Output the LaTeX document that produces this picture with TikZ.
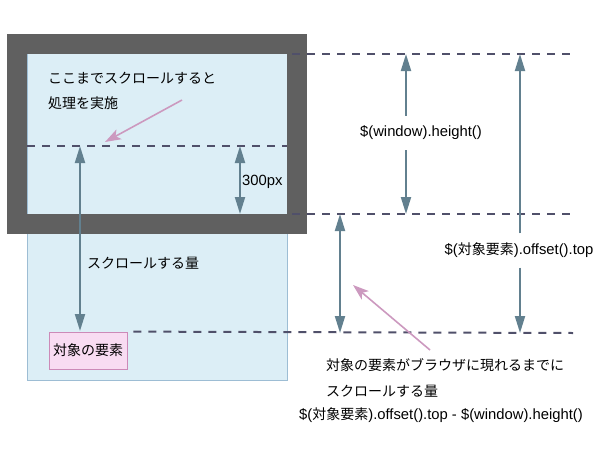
\documentclass[tikz,border=0pt]{standalone}
\usepackage{fontspec}
\setmainfont{Liberation Sans}
\newfontfamily\jp{Noto Sans CJK JP}
\usetikzlibrary{arrows.meta}

\definecolor{framegray}{HTML}{606060}
\definecolor{pagefill}{HTML}{DCEEF6}
\definecolor{pageline}{HTML}{9DBDD4}
\definecolor{dashcol}{HTML}{50506A}
\definecolor{arrcol}{HTML}{62808F}
\definecolor{notecol}{HTML}{CC99BF}
\definecolor{elemfill}{HTML}{F8DCF2}
\definecolor{elemline}{HTML}{CC8AB8}

\newcommand{\jpsize}{\jp\fontsize{14}{17}\selectfont}
\newcommand{\ltsize}{\fontsize{14.8}{17}\selectfont}

\tikzset{
  bord/.style={draw=dashcol,line width=2pt,dash pattern=on 8pt off 7pt},
  dimline/.style={draw=arrcol,line width=2pt,arrows={Triangle[length=17pt,width=10pt]-Triangle[length=17pt,width=10pt]}},
  dimhalf/.style={draw=arrcol,line width=2pt,arrows={-Triangle[length=17pt,width=10pt]}},
  note/.style={draw=notecol,line width=1.6pt,arrows={-Stealth[length=16pt,width=11pt,inset=4pt]}},
  lbl/.style={inner sep=0pt,anchor=west,font=\ltsize},
  gaplbl/.style={inner xsep=0pt,inner ysep=10.5pt,text height=10pt,text depth=3pt,font=\ltsize},
}

\begin{document}
\begin{tikzpicture}[x=1pt,y=-1pt]
\useasboundingbox (0,0) rectangle (600,450);

% ページ
\node[draw=pageline,fill=pagefill,line width=0.8pt,minimum width=260pt,minimum height=336pt,inner sep=0pt] (page) at (157,212) {};

% ウィンドウ
\node[draw=framegray,line width=20pt,minimum width=280pt,minimum height=180pt,inner sep=0pt] (win) at (157,134) {};

% 対象の要素
\node[draw=elemline,fill=elemfill,line width=0.8pt,minimum width=78pt,minimum height=37pt,inner sep=0pt,font=\jpsize] (elem) at (88,350.5) {対象の要素};

% 破線
\coordinate (topL) at (292,54);  \coordinate (topR) at (576,54);
\coordinate (midL) at (27,146);  \coordinate (midR) at (287,146);
\coordinate (botL) at (292,214); \coordinate (botR) at (572,214);
\coordinate (elemR) at (573,333);
\draw[bord] (topL) -- (topR);
\draw[bord] (midL) -- (midR);
\draw[bord] (botL) -- (botR);
\draw[bord] ([xshift=6pt]elem.north east) -- (elemR);

% 矢印
\coordinate (a1t) at (80,146); \coordinate (a1b) at (80,331);
\coordinate (a2t) at (240,146); \coordinate (a2b) at (240,214);
\coordinate (whtop) at (406,54); \coordinate (whbot) at (406,214);
\coordinate (ottop) at (520,54); \coordinate (otbot) at (520,333);
\coordinate (dtop) at (340,214); \coordinate (dbot) at (340,333);
\draw[dimline] (a1t) -- (a1b);
\draw[dimline] (a2t) -- (a2b);
\draw[dimline] (dtop) -- (dbot);

\node[gaplbl] (whlabel) at (421,133) {\$(window).height()};
\draw[dimhalf] (whlabel.north -| whtop) -- (whtop);
\draw[dimhalf] (whlabel.south -| whbot) -- (whbot);

\node[gaplbl] (otlabel) at (519,250.5) {\$({\jpsize 対象要素}).offset().top};
\draw[dimhalf] (otlabel.north -| ottop) -- (ottop);
\draw[dimhalf] (otlabel.south -| otbot) -- (otbot);

% テキスト
\node[lbl,font=\jpsize] (t1) at (48,78) {ここまでスクロールすると};
\node[lbl,font=\jpsize] (t2) at (48,103) {処理を実施};
\node[lbl,font=\jpsize] (t3) at (87,263) {スクロールする量};
\node[lbl] (t4) at (242,182) {300px};
\node[lbl,font=\jpsize] (t5) at (326,365) {対象の要素がブラウザに現れるまでに};
\node[lbl,font=\jpsize] (t6) at (326,391) {スクロールする量};
\node[lbl] (t7) at (299,415) {\$({\jpsize 対象要素}).offset().top - \$(window).height()};

% 注釈の矢印
\coordinate (n1s) at (182,100); \coordinate (n1e) at (105,142);
\coordinate (n2s) at (430,350); \coordinate (n2e) at (353,285);
\draw[note] (n1s) -- (n1e);
\draw[note] (n2s) -- (n2e);
\end{tikzpicture}
\end{document}
